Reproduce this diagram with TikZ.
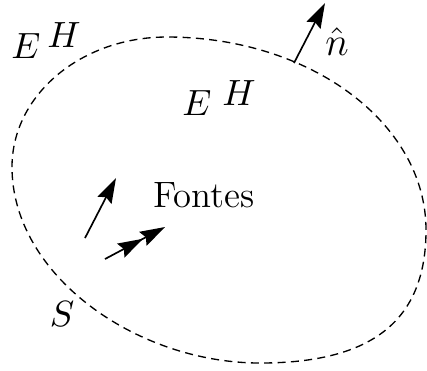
\documentclass[tikz,border=0pt]{standalone}
\usetikzlibrary{arrows.meta}
\begin{document}
\begin{tikzpicture}[x={(0.3pt,0)},y={(0,-0.3pt)},
  surf/.style={line width=0.4pt,dash pattern=on 2.4pt off 1.6pt},
  vec/.style={line width=0.5pt,-{Stealth[length=7.5pt,width=4.7pt,inset=1pt]}},
  dvec/.style={line width=0.5pt,-{Stealth[length=7.5pt,width=4.7pt,inset=1pt] Stealth[length=7.5pt,width=4.7pt,inset=1pt]}},
  lbl/.style={inner sep=0pt,font=\fontsize{11}{13}\selectfont}]
\useasboundingbox (0,0) rectangle (427,370);
\coordinate (L) at (12,167);
\coordinate (T) at (167,37);
\coordinate (R) at (426,230);
\coordinate (B) at (260,363);
\draw[surf] (L) .. controls (12,95) and (81,37) .. (T)
  .. controls (310,37) and (426,123) .. (R)
  .. controls (426,320) and (373,363) .. (B)
  .. controls (136,363) and (12,275) .. (L) -- cycle;
\coordinate (nt) at (294,63);
\coordinate (nh) at (325,3);
\draw[vec] (nt) -- (nh);
\node[lbl,font=\fontsize{13}{15}\selectfont] (n) at (337,42) {$\hat{n}$};
\node[lbl] (E1) at (26,46) {$E$};
\node[lbl] (H1) at (64,35) {$H$};
\node[lbl] (E2) at (197,103) {$E$};
\node[lbl] (H2) at (239,93) {$H$};
\node[lbl] (F) at (204,195) {Fontes};
\node[lbl] (S) at (62,314) {$S$};
\coordinate (a1) at (85,238);
\coordinate (a2) at (116,178);
\draw[vec] (a1) -- (a2);
\coordinate (b1) at (105,259);
\coordinate (b2) at (165,227);
\draw[dvec] (b1) -- (b2);
\end{tikzpicture}
\end{document}
